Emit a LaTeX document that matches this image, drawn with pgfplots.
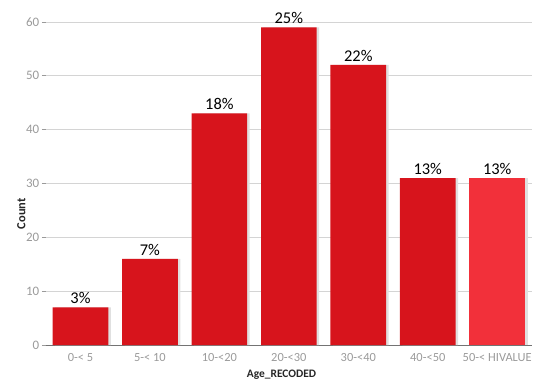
\documentclass[border=0pt]{standalone}
\usepackage{pgfplots}
\usepackage{pgfplotstable}
\usepackage{fontspec}
\setmainfont{Carlito}
\pgfplotsset{compat=1.18}
\definecolor{barred}{HTML}{D7141C}
\definecolor{barlight}{HTML}{F2303A}
\definecolor{gridc}{HTML}{D4D4D4}
\definecolor{tickc}{HTML}{9A9A9A}
\pgfplotstableread{
x y lab
0 7 3\%
1 16 7\%
2 43 18\%
3 59 25\%
4 52 22\%
5 31 13\%
}\mainbars
\pgfplotstableread{
x y lab
6 31 13\%
}\lastbar
\begin{document}
\begin{tikzpicture}[x=1pt,y=1pt]
\begin{axis}[
  scale only axis,
  width=489pt, height=325pt,
  xmin=-0.5, xmax=6.5,
  ymin=0, ymax=60,
  clip=false,
  axis lines*=left,
  x axis line style={draw=black!55, line width=0.9pt},
  y axis line style={draw=none},
  ytick={0,10,...,60},
  xtick={0,...,6},
  xticklabels={0-< 5,5-< 10,10-<20,20-<30,30-<40,40-<50,50-< HIVALUE},
  xtick style={draw=none},
  ytick style={draw=tickc, line width=0.6pt},
  major tick length=4pt,
  tick align=outside,
  ymajorgrids,
  grid style={gridc, line width=0.7pt},
  tick label style={font=\fontsize{12.5}{15}\selectfont, text=tickc},
  yticklabel style={xshift=1pt, font=\fontsize{13}{15}\selectfont},
  xticklabel style={yshift=-1pt},
  /pgf/number format/assume math mode=true,
  ylabel={Count},
  xlabel={Age\_RECODED},
  every axis y label/.style={at={(axis description cs:-0.05,0.406)},rotate=90,anchor=center,font=\fontsize{12.5}{15}\bfseries\selectfont, text=black!85},
  every axis x label/.style={at={(axis description cs:0.485,-0.092)},anchor=center,font=\fontsize{11.5}{14}\bfseries\selectfont, text=black!85},
  ybar, bar width=56pt,
  point meta=explicit symbolic,
  nodes near coords={\pgfplotspointmeta},
  every node near coord/.append style={font=\fontsize{16.5}{18}\selectfont, text=black, yshift=0pt},
]
\addplot[draw=none, fill=black!12, bar shift=2.5pt, nodes near coords={}, forget plot] table[x=x,y=y] {\mainbars};
\addplot[draw=none, fill=black!12, bar shift=2.5pt, nodes near coords={}, forget plot] table[x=x,y=y] {\lastbar};
\addplot[draw=none, fill=barred, bar shift=0pt] table[x=x,y=y,meta=lab] {\mainbars};
\addplot[draw=none, fill=barlight, bar shift=0pt] table[x=x,y=y,meta=lab] {\lastbar};
\end{axis}
\path (-46pt,-38pt) rectangle (489pt,347pt);
\end{tikzpicture}
\end{document}
